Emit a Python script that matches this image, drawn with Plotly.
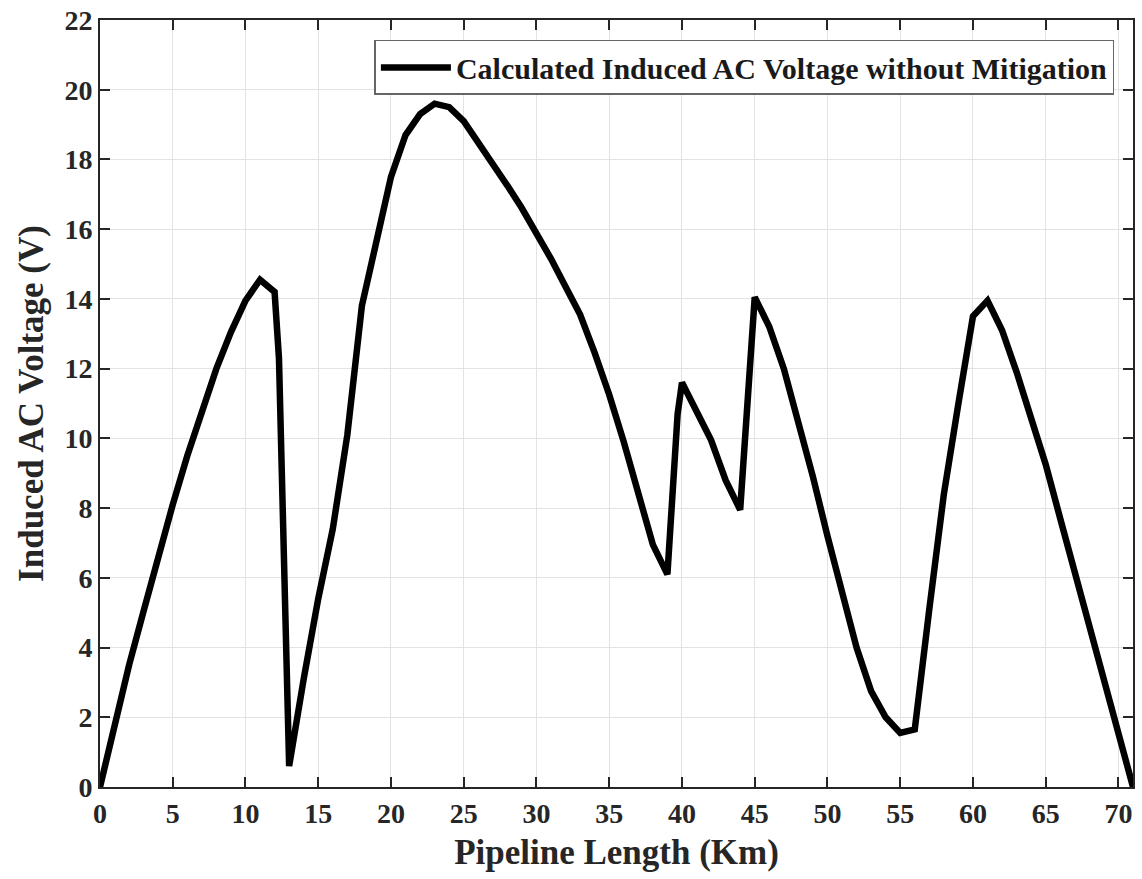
import plotly.graph_objects as go

pipeline_km = [0, 1, 2, 3, 4, 5, 6, 7, 8, 9, 10, 11, 12, 12.3, 13, 14, 15, 16, 17, 18,
               19, 20, 21, 22, 23, 24, 25, 26, 27, 28, 29, 30, 31, 32, 33, 34, 35, 36,
               37, 38, 39, 39.7, 40, 41, 42, 43, 44, 45, 46, 47, 48, 49, 50, 51, 52, 53,
               54, 55, 56, 57, 58, 59, 60, 61, 62, 63, 64, 65, 66, 67, 68, 69, 70, 71]
voltage = [0, 1.85, 3.5, 5.05, 6.6, 8.1, 9.5, 10.8, 12.0, 13.05, 13.95, 14.55, 14.2, 12.3,
           0.6, 3.1, 5.4, 7.4, 10.1, 13.8, 15.7, 17.5, 18.7, 19.3, 19.6, 19.5, 19.1, 18.5,
           17.9, 17.25, 16.6, 15.9, 15.15, 14.35, 13.55, 12.45, 11.25, 9.9, 8.45, 6.95,
           6.1, 10.7, 11.6, 10.8, 9.95, 8.8, 7.95, 14.05, 13.2, 12.0, 10.5, 8.9, 7.2, 5.55,
           4.0, 2.75, 2.0, 1.55, 1.65, 5.1, 8.4, 11.0, 13.5, 13.95, 13.1, 11.9, 10.6, 9.25,
           7.7, 6.15, 4.6, 3.0, 1.45, 0]

x_ticks = list(range(0, 71, 5))
y_ticks = list(range(0, 23, 2))

font_family = "Times New Roman, Liberation Serif, Tinos, serif"
axis_color = "#262626"

fig = go.Figure()
fig.add_trace(go.Scatter(
    x=pipeline_km, y=voltage, mode="lines",
    line=dict(color="black", width=6.5),
    name="<b>Calculated Induced AC Voltage without Mitigation</b>",
))

fig.update_layout(
    width=1142, height=879,
    margin=dict(l=100, r=9, t=20, b=92),
    paper_bgcolor="white", plot_bgcolor="white",
    font=dict(family=font_family, color=axis_color, size=28),
    showlegend=True,
    legend=dict(
        x=0.982, y=0.974, xanchor="right", yanchor="top",
        bgcolor="white", bordercolor="#666666", borderwidth=1.5,
        font=dict(family=font_family, size=30, color="#1a1a1a"),
        itemwidth=70, tracegroupgap=0,
    ),
    xaxis=dict(
        range=[0, 71], tickvals=x_ticks, ticktext=[f"<b>{t}</b>" for t in x_ticks],
        tickfont=dict(size=28), automargin=False,
        showgrid=True, gridcolor="#e3e3e3", gridwidth=1,
        showline=True, linecolor=axis_color, linewidth=2, mirror="ticks",
        ticks="inside", ticklen=10, tickwidth=2, tickcolor=axis_color,
        zeroline=False,
        title=dict(text="<b>Pipeline Length (Km)</b>", font=dict(size=35), standoff=12),
    ),
    yaxis=dict(
        range=[0, 22], tickvals=y_ticks, ticktext=[f"<b>{t}</b>" for t in y_ticks],
        tickfont=dict(size=28), automargin=False,
        showgrid=True, gridcolor="#e3e3e3", gridwidth=1,
        showline=True, linecolor=axis_color, linewidth=2, mirror="ticks",
        ticks="inside", ticklen=10, tickwidth=2, tickcolor=axis_color,
        zeroline=False,
        title=dict(text="<b>Induced AC Voltage (V)</b>", font=dict(size=35), standoff=10),
    ),
)

fig.write_html("out.html")
